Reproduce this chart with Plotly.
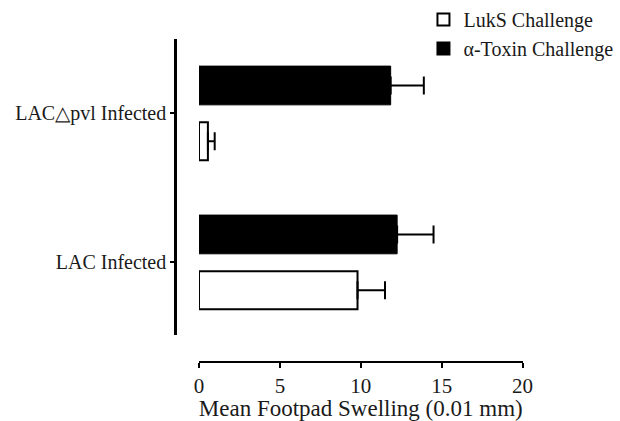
import plotly.graph_objects as go

categories = ["LAC Infected", "LAC\u25b3pvl Infected"]
luks_values = [9.8, 0.55]
luks_errors = [1.7, 0.42]
toxin_values = [12.25, 11.85]
toxin_errors = [2.25, 2.05]
x_ticks = [0, 5, 10, 15, 20]

W, H = 620, 421
FONT = "Liberation Serif"

fig = go.Figure()
fig.add_trace(go.Bar(
    name="LukS Challenge", orientation="h",
    y=categories, x=luks_values,
    error_x=dict(type="data", array=luks_errors, symmetric=False, arrayminus=[0, 0],
                 color="black", thickness=2, width=9),
    marker=dict(color="white", line=dict(color="black", width=2)),
    width=0.255, offset=-0.317,
))
fig.add_trace(go.Bar(
    name="\u03b1-Toxin Challenge", orientation="h",
    y=categories, x=toxin_values,
    error_x=dict(type="data", array=toxin_errors, symmetric=False, arrayminus=[0, 0],
                 color="black", thickness=2, width=9),
    marker=dict(color="black", line=dict(color="black", width=1)),
    width=0.26, offset=0.055,
))

y_bottom_px, y_top_px = 335, 39.3
x_left_px, x_right_px = 199, 522.5
fig.update_layout(
    width=W, height=H,
    margin=dict(l=0, r=0, t=0, b=0),
    paper_bgcolor="white", plot_bgcolor="white",
    font=dict(family=FONT, size=20, color="#1a1a1a"),
    barmode="group",
    showlegend=True,
    legend=dict(x=0.683, y=1.0, xanchor="left", yanchor="top",
                font=dict(family=FONT, size=20, color="#1a1a1a"),
                bgcolor="rgba(0,0,0,0)", tracegroupgap=0, traceorder="normal",
                itemsizing="constant"),
    xaxis=dict(
        domain=[x_left_px / W, x_right_px / W],
        range=[0, 20], tickvals=x_ticks, ticktext=[str(v) for v in x_ticks],
        showline=True, linecolor="black", linewidth=2,
        ticks="outside", ticklen=5, tickwidth=2, tickcolor="black",
        showgrid=False, zeroline=False,
        anchor="free", position=(H - 362) / H,
        tickfont=dict(family=FONT, size=21, color="#1a1a1a"),
        title=dict(text="Mean Footpad Swelling (0.01 mm)", standoff=2,
                   font=dict(family=FONT, size=23, color="#1a1a1a")),
        automargin=False,
    ),
    yaxis=dict(
        domain=[(H - y_bottom_px) / H, (H - y_top_px) / H],
        type="category", categoryorder="array", categoryarray=categories,
        range=[-0.49, 1.495],
        showline=True, linecolor="black", linewidth=2.5,
        ticks="outside", ticklen=4, tickwidth=2, tickcolor="black",
        showgrid=False, zeroline=False,
        anchor="free", position=175 / W,
        tickfont=dict(family=FONT, size=20, color="#1a1a1a"),
        automargin=False,
    ),
)

fig.write_html("out.html")
